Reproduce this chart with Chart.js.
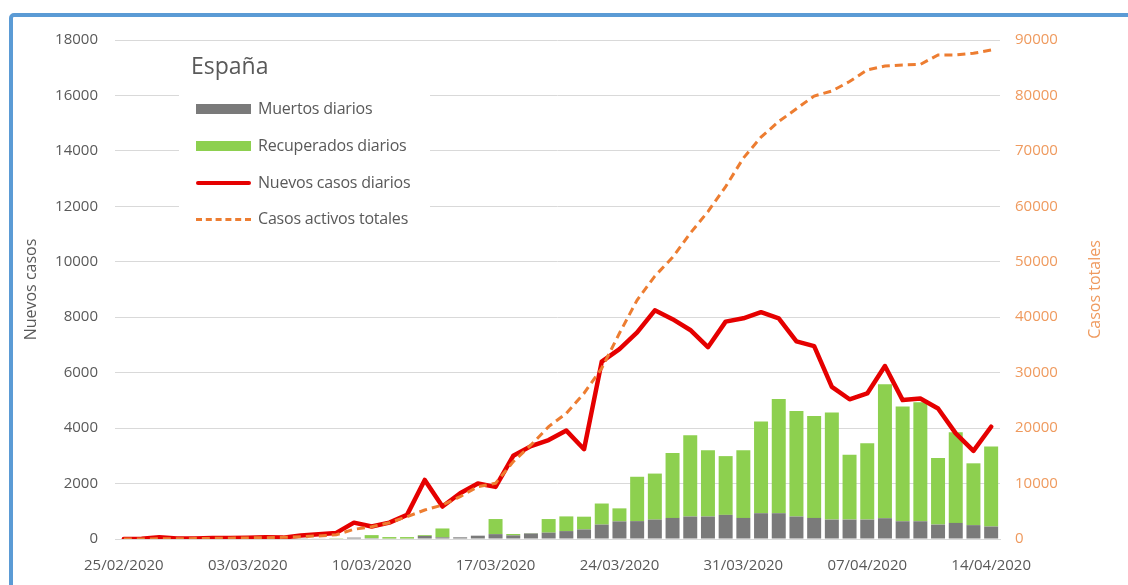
<!DOCTYPE html>
<html><head><meta charset="utf-8">
<script src="https://cdn.jsdelivr.net/npm/chart.js@4.4.0/dist/chart.umd.min.js"></script>
<style>
html,body{margin:0;padding:0;background:#fff;}
#wrap{position:relative;width:1128px;height:585px;overflow:hidden;font-family:"Open Sans",sans-serif;background:#fff;}
#frame{position:absolute;left:9px;top:13px;width:1150px;height:600px;border:4px solid #5b9bd5;border-radius:5px;box-sizing:border-box;}
canvas{position:absolute;left:0;top:0;}
#legend{position:absolute;left:179px;top:50px;width:251px;height:184px;background:#fff;color:#595959;}
#legend .t{position:absolute;left:12px;top:0px;font-size:23px;line-height:30px;}
#legend .row{position:absolute;left:17px;height:20px;width:240px;}
#legend .sw{position:absolute;left:0;width:55px;}
#legend .lab{position:absolute;left:62px;top:-1px;font-size:16px;line-height:20px;white-space:nowrap;letter-spacing:-0.2px;}
</style></head>
<body>
<div id="wrap">
<canvas id="c" width="1128" height="585"></canvas>
<div id="frame"></div>
<div id="legend">
  <div class="t">España</div>
  <div class="row" style="top:49px"><div class="sw" style="top:5px;height:10px;background:#7a7a7a"></div><div class="lab">Muertos diarios</div></div>
  <div class="row" style="top:86px"><div class="sw" style="top:5px;height:10px;background:#8dd04f"></div><div class="lab">Recuperados diarios</div></div>
  <div class="row" style="top:123px"><div class="sw" style="top:8px;height:4px;background:#e50000;border-radius:2px"></div><div class="lab">Nuevos casos diarios</div></div>
  <div class="row" style="top:159px"><div class="sw" style="top:9px;height:0;border-top:3px dashed #ed7d31"></div><div class="lab">Casos activos totales</div></div>
</div>
</div>
<script>
const fechas = ["25/02/2020","26/02/2020","27/02/2020","28/02/2020","29/02/2020","01/03/2020","02/03/2020","03/03/2020","04/03/2020","05/03/2020","06/03/2020","07/03/2020","08/03/2020","09/03/2020","10/03/2020","11/03/2020","12/03/2020","13/03/2020","14/03/2020","15/03/2020","16/03/2020","17/03/2020","18/03/2020","19/03/2020","20/03/2020","21/03/2020","22/03/2020","23/03/2020","24/03/2020","25/03/2020","26/03/2020","27/03/2020","28/03/2020","29/03/2020","30/03/2020","31/03/2020","01/04/2020","02/04/2020","03/04/2020","04/04/2020","05/04/2020","06/04/2020","07/04/2020","08/04/2020","09/04/2020","10/04/2020","11/04/2020","12/04/2020","13/04/2020","14/04/2020"];
const nuevosCasos = [4,13,60,20,15,35,40,45,60,50,130,170,220,590,450,590,870,2130,1170,1650,2000,1880,3000,3350,3570,3910,3240,6400,6850,7450,8250,7930,7540,6920,7840,7960,8180,7960,7130,6960,5490,5040,5250,6240,5010,5070,4710,3810,3180,4050];
const muertosDiarios = [0,0,0,0,0,0,0,1,3,5,10,15,20,50,30,15,15,110,60,60,120,175,130,200,230,285,345,520,635,645,700,760,810,810,870,760,930,930,810,760,700,700,700,750,640,640,520,580,500,450];
const recuperadosDiarios = [0,0,0,0,0,0,0,0,0,0,0,0,10,0,110,55,55,30,320,0,0,545,50,10,490,530,460,760,470,1600,1660,2340,2930,2390,2120,2440,3310,4120,3810,3680,3860,2340,2750,4830,4140,4290,2400,3270,2230,2890];
const casosActivos = [5,15,30,45,70,110,150,190,240,300,420,560,760,1750,2220,2940,4030,5230,6130,7630,9440,10050,13950,16960,20260,22680,26290,30800,37110,43100,47400,50800,55150,59050,63560,68700,72500,75300,77600,79900,80800,82500,84600,85300,85500,85600,87300,87300,87600,88200];
const ticksIzq = {min:0, max:18000, paso:2000};
const ticksDer = {min:0, max:90000, paso:10000};

const gris = '#595959', naranja = '#ef9a5e';
const fuente = {family:'"Open Sans", sans-serif', size:15};

const titulos = {
  id:'titulos',
  afterDraw(chart){
    const ctx = chart.ctx, a = chart.chartArea;
    const cy = (a.top + a.bottom)/2;
    ctx.save();
    ctx.font = '16px "Open Sans", sans-serif';
    ctx.textAlign = 'center'; ctx.textBaseline = 'middle';
    ctx.translate(31, cy); ctx.rotate(-Math.PI/2);
    ctx.fillStyle = gris; ctx.fillText('Nuevos casos', 0, 0);
    ctx.restore();
    ctx.save();
    ctx.font = '16px "Open Sans", sans-serif';
    ctx.textAlign = 'center'; ctx.textBaseline = 'middle';
    ctx.translate(1095, cy); ctx.rotate(-Math.PI/2);
    ctx.fillStyle = naranja; ctx.fillText('Casos totales', 0, 0);
    ctx.restore();
  }
};

new Chart(document.getElementById('c'), {
  data: {
    labels: fechas,
    datasets: [
      {type:'line', label:'Casos activos totales', data:casosActivos, yAxisID:'y2', borderColor:'#ed7d31', borderWidth:3, borderDash:[8,5], pointRadius:0, tension:0, order:0},
      {type:'line', label:'Nuevos casos diarios', data:nuevosCasos, yAxisID:'y', stack:'lineas', borderColor:'#e50000', borderWidth:4.5, pointRadius:0, tension:0, borderJoinStyle:'round', borderCapStyle:'round', order:1},
      {type:'bar', label:'Muertos diarios', data:muertosDiarios, yAxisID:'y', stack:'barras', backgroundColor:'#7a7a7a', order:2, categoryPercentage:1, barPercentage:0.79},
      {type:'bar', label:'Recuperados diarios', data:recuperadosDiarios, yAxisID:'y', stack:'barras', backgroundColor:'#8dd04f', order:2, categoryPercentage:1, barPercentage:0.79}
    ]
  },
  options: {
    responsive:false, animation:false, devicePixelRatio:1,
    layout:{padding:{left:14, right:0, top:40, bottom:0}},
    plugins:{legend:{display:false}, tooltip:{enabled:false}},
    scales:{
      x:{stacked:true, grid:{display:false}, border:{display:true, color:'#d9d9d9'},
         ticks:{autoSkip:false, maxRotation:0, minRotation:0, color:gris, font:fuente, padding:10,
                callback:(v,i)=> i%7===0 ? fechas[i] : ''},
         afterFit:s=>{s.height=46;}},
      y:{stacked:true, position:'left', min:ticksIzq.min, max:ticksIzq.max,
         ticks:{stepSize:ticksIzq.paso, color:gris, font:fuente, padding:17, callback:v=>String(v)},
         grid:{color:'#d9d9d9', drawTicks:false}, border:{display:false},
         afterFit:s=>{s.width=101;}},
      y2:{position:'right', min:ticksDer.min, max:ticksDer.max,
         ticks:{stepSize:ticksDer.paso, color:naranja, font:fuente, padding:15, callback:v=>String(v)},
         grid:{display:false, drawTicks:false}, border:{display:false},
         afterFit:s=>{s.width=128;}}
    }
  },
  plugins:[titulos]
});
</script>
</body></html>
